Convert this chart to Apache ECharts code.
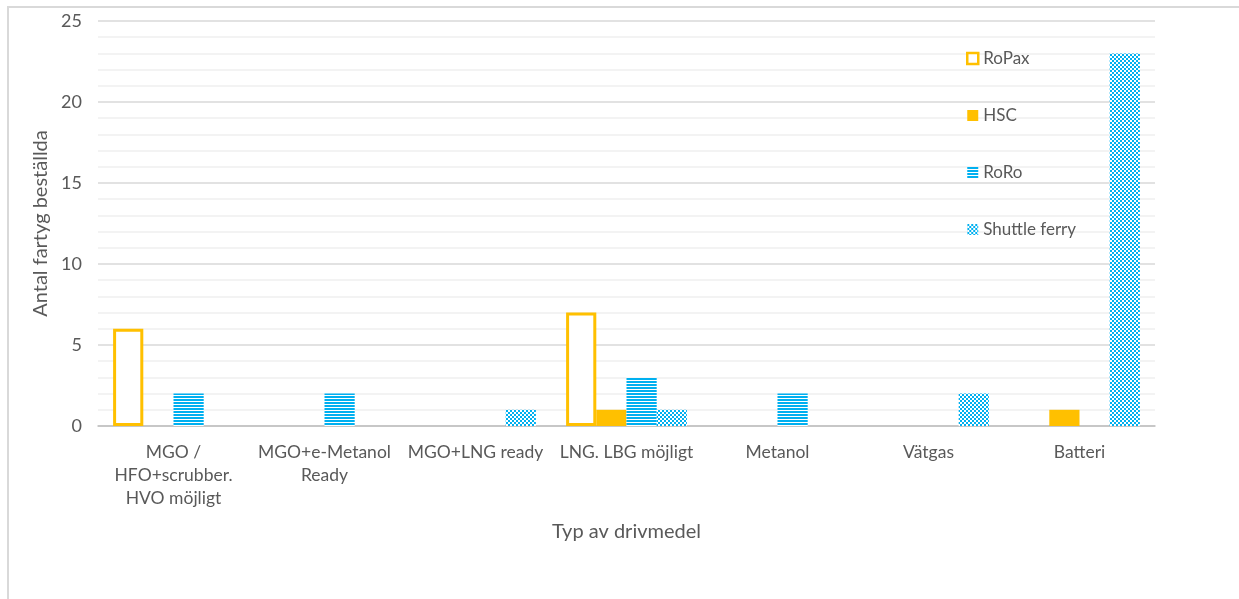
<!DOCTYPE html>
<html>
<head>
<meta charset="utf-8">
<script src="https://cdn.jsdelivr.net/npm/echarts@6/dist/echarts.min.js"></script>
<style>
html,body{margin:0;padding:0;background:#fff;}
#frame{position:absolute;left:7px;top:6px;width:1240px;height:600px;border-top:2px solid #d9d9d9;border-left:2px solid #d9d9d9;}
#chart{position:absolute;left:0;top:0;width:1239px;height:599px;}
</style>
</head>
<body>
<div id="frame"></div>
<div id="chart"></div>
<script>
var categories = ['MGO /\nHFO+scrubber.\nHVO möjligt', 'MGO+e-Metanol\nReady', 'MGO+LNG ready', 'LNG. LBG möjligt', 'Metanol', 'Vätgas', 'Batteri'];
var seriesNames = ['RoPax', 'HSC', 'RoRo', 'Shuttle ferry'];
var ropax = [6, 0, 0, 7, 0, 0, 0];
var hsc = [0, 0, 0, 1, 0, 0, 1];
var roro = [2, 2, 0, 3, 2, 0, 0];
var shuttle = [0, 0, 1, 1, 0, 2, 23];
var yTicks = [0, 5, 10, 15, 20, 25];

var ORANGE = '#ffc000', BLUE = '#00b0f0';

function stripePattern() {
  var c = document.createElement('canvas');
  c.width = 4; c.height = 3;
  var g = c.getContext('2d');
  g.fillStyle = '#ffffff'; g.fillRect(0, 0, 4, 3);
  g.fillStyle = BLUE; g.fillRect(0, 0, 4, 2);
  return c;
}
function checkerPattern() {
  var c = document.createElement('canvas');
  c.width = 4; c.height = 4;
  var g = c.getContext('2d');
  g.fillStyle = '#ffffff'; g.fillRect(0, 0, 4, 4);
  g.fillStyle = BLUE;
  g.fillRect(0, 0, 2, 2); g.fillRect(2, 2, 2, 2);
  return c;
}
function nz(arr) { return arr.map(function (v) { return v === 0 ? null : v; }); }

var chart = echarts.init(document.getElementById('chart'));
var textColor = '#595959';
var font = 'Lato, "Noto Sans", sans-serif';

chart.setOption({
  animation: false,
  backgroundColor: 'transparent',
  textStyle: { fontFamily: font },
  grid: { left: 98, right: 84, top: 21, bottom: 173 },
  legend: {
    orient: 'vertical',
    left: 961, top: 45,
    itemWidth: 11, itemHeight: 11,
    itemGap: 40,
    textStyle: { color: textColor, fontSize: 17, fontFamily: font },
    data: [
      { name: 'RoPax', icon: 'rect', itemStyle: { color: '#fff', borderColor: ORANGE, borderWidth: 2.5 } },
      { name: 'HSC', icon: 'rect' },
      { name: 'RoRo', icon: 'rect' },
      { name: 'Shuttle ferry', icon: 'rect' }
    ]
  },
  xAxis: {
    type: 'category',
    data: categories,
    name: 'Typ av drivmedel',
    nameLocation: 'middle',
    nameGap: 96,
    nameTextStyle: { color: textColor, fontSize: 20, fontFamily: font },
    axisLine: { lineStyle: { color: '#bfbfbf', width: 1.5 } },
    axisTick: { length: 6, lineStyle: { color: '#bfbfbf', width: 1.5 } },
    axisLabel: { color: textColor, fontSize: 17.5, lineHeight: 23, margin: 15, interval: 0, fontFamily: font },
    splitLine: { show: false }
  },
  yAxis: {
    type: 'value',
    min: 0, max: 25, interval: 5,
    name: 'Antal fartyg beställda',
    nameLocation: 'middle',
    nameGap: 46,
    nameRotate: 90,
    nameTextStyle: { color: textColor, fontSize: 20, fontFamily: font },
    axisLine: { show: false },
    axisTick: { show: false },
    axisLabel: {
      color: textColor, fontSize: 18, margin: 16, fontFamily: font,
      formatter: function (v) { return yTicks.indexOf(v) >= 0 ? String(v) : ''; }
    },
    splitLine: { lineStyle: { color: '#d9d9d9', width: 1.5 } },
    minorTick: { show: false, splitNumber: 5 },
    minorSplitLine: { show: true, lineStyle: { color: '#f0f0f0', width: 1.5 } }
  },
  series: [
    {
      name: 'RoPax', type: 'bar', data: nz(ropax),
      barGap: '0%', barCategoryGap: '20%',
      itemStyle: { color: '#ffffff', borderColor: ORANGE, borderWidth: 3 }
    },
    {
      name: 'HSC', type: 'bar', data: nz(hsc),
      itemStyle: { color: ORANGE }
    },
    {
      name: 'RoRo', type: 'bar', data: nz(roro),
      itemStyle: { color: { image: stripePattern(), repeat: 'repeat' } }
    },
    {
      name: 'Shuttle ferry', type: 'bar', data: nz(shuttle),
      itemStyle: { color: { image: checkerPattern(), repeat: 'repeat' } }
    }
  ]
});
</script>
</body>
</html>
